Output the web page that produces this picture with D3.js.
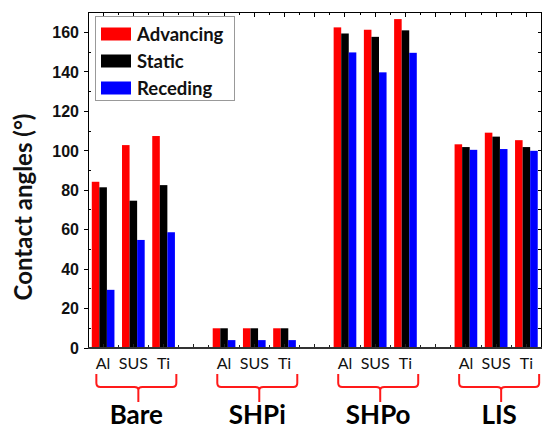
<!DOCTYPE html>
<html>
<head>
<meta charset="utf-8">
<script src="https://cdn.jsdelivr.net/npm/d3@7"></script>
<style>
  html, body { margin: 0; padding: 0; background: #fff; }
  svg { display: block; }
</style>
</head>
<body>
<svg id="chart" width="543" height="431"></svg>
<script>
// Surface treatments and substrates
const groups = ["Bare", "SHPi", "SHPo", "LIS"];
const substrates = ["Al", "SUS", "Ti"];
const seriesNames = ["Advancing", "Static", "Receding"];
const seriesColors = ["#ff0000", "#000000", "#0000ff"];

// Contact angles (deg), ordered group by group: Al, SUS, Ti
const advancing = [84.3, 102.9, 107.5, 10, 10, 10, 162.6, 161.4, 166.8, 103.3, 109.2, 105.4];
const staticAngle = [81.5, 74.7, 82.6, 10, 10, 10, 159.5, 157.8, 161.1, 101.9, 107.2, 101.9];
const receding = [29.5, 54.8, 58.7, 4, 4, 4, 149.9, 139.8, 149.7, 100.5, 100.9, 100.0];

const yTickValues = [0, 20, 40, 60, 80, 100, 120, 140, 160];

const svg = d3.select("#chart");
const plotLeft = 88, plotRight = 541.5, plotTop = 12, plotBottom = 348;

// Each group takes three slots plus one empty slot
const x = d3.scaleLinear().domain([0.5, 15.5]).range([plotLeft, plotRight]);
const y = d3.scaleLinear().domain([0, 170.4]).range([plotBottom, plotTop]);

const slot = (g, s) => g * 4 + s + 1;
const barW = 0.25;

const seriesData = [advancing, staticAngle, receding];
const bars = [];
seriesData.forEach((vals, k) => {
  vals.forEach((v, i) => {
    const g = Math.floor(i / 3), s = i % 3;
    bars.push({ k, v, pos: slot(g, s) + (k - 1.5) * barW });
  });
});

svg.append("g").selectAll("rect").data(bars).join("rect")
  .attr("x", d => x(d.pos))
  .attr("width", d => x(d.pos + barW) - x(d.pos))
  .attr("y", d => y(d.v))
  .attr("height", d => y(0) - y(d.v))
  .attr("fill", d => seriesColors[d.k]);

// Frame and ticks
const frame = svg.append("g").attr("shape-rendering", "crispEdges");
const minorY = d3.range(10, 171, 20);
const halfSteps = d3.range(1, 15.01, 0.5);

// left axis
frame.append("line").attr("x1", plotLeft).attr("x2", plotLeft).attr("y1", plotTop).attr("y2", plotBottom).attr("stroke", "#000");
frame.append("g").selectAll("line").data(yTickValues).join("line")
  .attr("x1", plotLeft - 4).attr("x2", plotLeft).attr("y1", d => y(d)).attr("y2", d => y(d)).attr("stroke", "#000");
frame.append("g").selectAll("line").data(minorY).join("line")
  .attr("x1", plotLeft).attr("x2", plotLeft + 3).attr("y1", d => y(d)).attr("y2", d => y(d)).attr("stroke", "#000");

// right axis
frame.append("line").attr("x1", plotRight).attr("x2", plotRight).attr("y1", plotTop).attr("y2", plotBottom).attr("stroke", "#000");
frame.append("g").selectAll("line").data(yTickValues.concat(minorY)).join("line")
  .attr("x1", plotRight - 4).attr("x2", plotRight).attr("y1", d => y(d)).attr("y2", d => y(d)).attr("stroke", "#000");

// top axis
frame.append("line").attr("x1", plotLeft).attr("x2", plotRight).attr("y1", plotTop).attr("y2", plotTop).attr("stroke", "#000");
frame.append("g").selectAll("line").data(halfSteps).join("line")
  .attr("x1", d => x(d)).attr("x2", d => x(d))
  .attr("y1", plotTop).attr("y2", d => plotTop + (Number.isInteger(d) ? 5 : 3)).attr("stroke", "#000");

// bottom axis
frame.append("g").selectAll("line").data(halfSteps).join("line")
  .attr("x1", d => x(d)).attr("x2", d => x(d))
  .attr("y1", plotBottom).attr("y2", d => plotBottom - (Number.isInteger(d) ? 4 : 3)).attr("stroke", "#222");
frame.append("line").attr("x1", plotLeft).attr("x2", plotRight).attr("y1", plotBottom).attr("y2", plotBottom)
  .attr("stroke", "#333").attr("stroke-width", 1.5);

// y tick labels
svg.append("g").selectAll("text").data(yTickValues).join("text")
  .attr("x", plotLeft - 9).attr("y", d => y(d)).attr("dy", "0.36em")
  .attr("text-anchor", "end")
  .attr("font-family", "Liberation Sans, Arial, sans-serif")
  .attr("font-weight", "bold").attr("font-size", 16)
  .attr("fill", "#111")
  .text(d => d);

// y axis title
svg.append("text")
  .attr("transform", `translate(32,${(plotTop + plotBottom) / 2 + 27}) rotate(-90)`)
  .attr("text-anchor", "middle")
  .attr("font-family", "Lato, sans-serif").attr("font-weight", "bold").attr("font-size", 24)
  .attr("fill", "#111")
  .text("Contact angles (°)");

// substrate labels under each bar cluster
const subLabels = [];
groups.forEach((g, gi) => substrates.forEach((s, si) => subLabels.push({ s, pos: slot(gi, si) })));
svg.append("g").selectAll("text").data(subLabels).join("text")
  .attr("x", d => x(d.pos)).attr("y", 369)
  .attr("text-anchor", "middle")
  .attr("font-family", "Lato, sans-serif").attr("font-size", 16)
  .attr("fill", "#111")
  .text(d => d.s);

// braces and group names
const braceG = svg.append("g");
groups.forEach((g, gi) => {
  const c = x(slot(gi, 1));
  const l = c - 37, r = c + 43, st = c + 5;
  const yTop = 374, yMid = 387, yEnd = 402;
  const p = d3.path();
  p.moveTo(l, yTop); p.lineTo(l, yMid - 4); p.quadraticCurveTo(l, yMid, l + 4, yMid);
  p.lineTo(st - 4, yMid); p.quadraticCurveTo(st, yMid, st, yMid + 3); p.lineTo(st, yEnd);
  p.moveTo(r, yTop); p.lineTo(r, yMid - 4); p.quadraticCurveTo(r, yMid, r - 4, yMid);
  p.lineTo(st + 4, yMid); p.quadraticCurveTo(st, yMid, st, yMid + 3);
  braceG.append("path").attr("d", p.toString())
    .attr("fill", "none").attr("stroke", "#ff1a1a").attr("stroke-width", 2);
  braceG.append("text")
    .attr("x", c + 3).attr("y", 424)
    .attr("text-anchor", "middle")
    .attr("font-family", "Lato, sans-serif").attr("font-weight", "bold").attr("font-size", 26)
    .attr("fill", "#000")
    .text(g);
});

// legend
const lg = svg.append("g");
lg.append("rect").attr("x", 95.5).attr("y", 16.5).attr("width", 139).attr("height", 84)
  .attr("fill", "#fff").attr("stroke", "#999").attr("stroke-width", 1);
seriesNames.forEach((name, k) => {
  const yy = 27.5 + k * 27;
  lg.append("rect").attr("x", 101).attr("y", yy).attr("width", 30).attr("height", 13)
    .attr("fill", seriesColors[k]);
  lg.append("text").attr("x", 137).attr("y", yy + 6.5).attr("dy", "0.36em")
    .attr("font-family", "Lato, sans-serif").attr("font-weight", "bold").attr("font-size", 18.5)
    .attr("fill", "#111")
    .text(name);
});
</script>
</body>
</html>
